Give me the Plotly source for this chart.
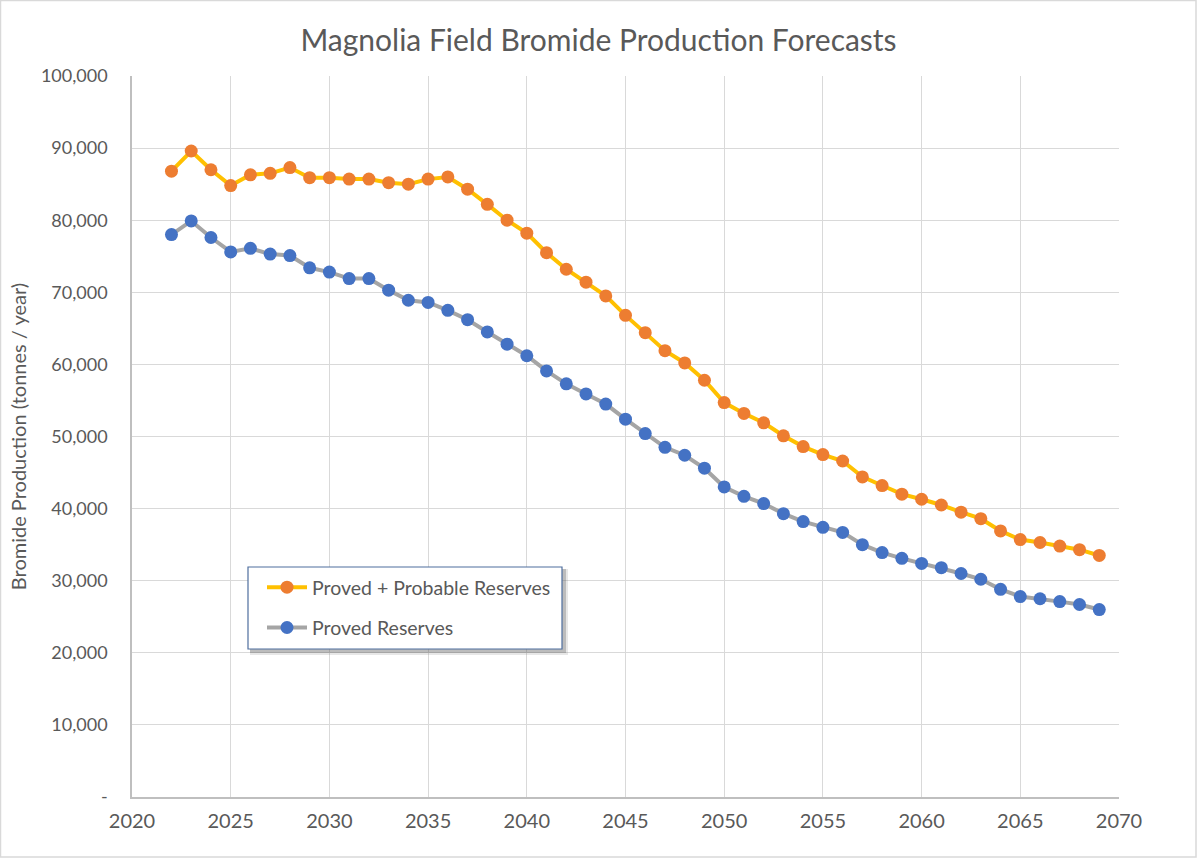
import plotly.graph_objects as go

years = list(range(2022, 2070))

proved_probable = [
    86.8, 89.6, 87.0, 84.8, 86.3, 86.5, 87.3, 85.9, 85.9, 85.7,
    85.7, 85.2, 85.0, 85.7, 86.0, 84.3, 82.2, 80.0, 78.2, 75.5,
    73.2, 71.4, 69.5, 66.8, 64.4, 61.9, 60.2, 57.8, 54.7, 53.2,
    51.9, 50.1, 48.6, 47.5, 46.6, 44.4, 43.2, 42.0, 41.3, 40.5,
    39.5, 38.6, 36.9, 35.7, 35.3, 34.8, 34.3, 33.5,
]
proved = [
    78.0, 79.9, 77.6, 75.6, 76.1, 75.3, 75.1, 73.4, 72.8, 71.9,
    71.9, 70.3, 68.9, 68.6, 67.5, 66.2, 64.5, 62.8, 61.2, 59.1,
    57.3, 55.9, 54.5, 52.4, 50.4, 48.5, 47.4, 45.6, 43.0, 41.7,
    40.7, 39.3, 38.2, 37.4, 36.7, 35.0, 33.9, 33.1, 32.4, 31.8,
    31.0, 30.2, 28.8, 27.8, 27.5, 27.1, 26.7, 26.0,
]
proved_probable = [v * 1000 for v in proved_probable]
proved = [v * 1000 for v in proved]

y_tickvals = list(range(0, 100001, 10000))
y_ticktext = ["-"] + [f"{v:,}" for v in y_tickvals[1:]]
x_tickvals = list(range(2020, 2071, 5))

W, H = 1197, 858
ML, MR, MT, MB = 132, 78, 76, 61
PW, PH = W - ML - MR, H - MT - MB

def px_x(p):
    return (p - ML) / PW

def px_y(p):
    return (H - MB - p) / PH

FONT = "Lato"
TXT = "#595959"

fig = go.Figure()
fig.add_trace(go.Scatter(
    x=years, y=proved_probable, mode="lines+markers",
    name="Proved + Probable Reserves", legendgroup="a",
    line=dict(color="#FFC000", width=4),
    marker=dict(color="#ED7D31", size=13),
))
fig.add_trace(go.Scatter(
    x=years, y=proved, mode="lines+markers",
    name="Proved Reserves", legendgroup="b",
    line=dict(color="#A5A5A5", width=4),
    marker=dict(color="#4472C4", size=13),
))

# legend box (drawn as shapes so its size matches the reference)
LX0, LX1, LY0, LY1 = 248, 562, 567, 649
shapes = [
    # outer chart border
    dict(type="rect", xref="paper", yref="paper",
         x0=px_x(0.5), x1=px_x(W - 1), y0=px_y(H - 1), y1=px_y(0.5),
         line=dict(color="#d9d9d9", width=1.5), layer="below"),
    # legend shadow (soft)
    dict(type="rect", xref="paper", yref="paper",
         x0=px_x(LX0 + 2), x1=px_x(LX1 + 6), y0=px_y(LY1 + 6), y1=px_y(LY0 + 2),
         fillcolor="rgba(120,120,120,0.18)", line=dict(width=0), layer="above"),
    dict(type="rect", xref="paper", yref="paper",
         x0=px_x(LX0 + 2), x1=px_x(LX1 + 4), y0=px_y(LY1 + 4), y1=px_y(LY0 + 2),
         fillcolor="rgba(90,90,90,0.30)", line=dict(width=0), layer="above"),
    # legend box
    dict(type="rect", xref="paper", yref="paper",
         x0=px_x(LX0), x1=px_x(LX1), y0=px_y(LY1), y1=px_y(LY0),
         fillcolor="white", line=dict(color="#4F6E9E", width=1.2), layer="above"),
]

fig.update_layout(
    width=W, height=H,
    margin=dict(l=ML, r=MR, t=MT, b=MB, pad=0),
    paper_bgcolor="white", plot_bgcolor="white",
    font=dict(family=FONT, color=TXT, size=18),
    title=dict(text="Magnolia Field Bromide Production Forecasts",
               x=0.5, xanchor="center", y=1 - 40 / H, yanchor="middle",
               font=dict(size=30, color=TXT, family=FONT)),
    xaxis=dict(range=[2020, 2070], tickvals=x_tickvals,
               showgrid=True, gridcolor="#d9d9d9", gridwidth=1,
               showline=True, linecolor="#bfbfbf", linewidth=1.5,
               zeroline=False, ticks="", tickfont=dict(size=20, color=TXT),
               ticklabelstandoff=5),
    yaxis=dict(range=[0, 100000], tickvals=y_tickvals, ticktext=y_ticktext,
               showgrid=True, gridcolor="#d9d9d9", gridwidth=1,
               showline=True, linecolor="#bfbfbf", linewidth=1.5,
               zeroline=False, ticks="", tickfont=dict(size=18, color=TXT),
               ticklabelstandoff=19,
               title=dict(text="Bromide Production (tonnes / year)",
                          font=dict(size=20, color=TXT), standoff=9)),
    legend=dict(x=px_x(262), y=px_y(568), xanchor="left", yanchor="top",
                bgcolor="rgba(0,0,0,0)", borderwidth=0,
                font=dict(size=19.5, color=TXT), tracegroupgap=12,
                itemwidth=40),
    shapes=shapes,
    showlegend=True,
)

fig.write_html("out.html", post_script="document.body.style.margin='0';",
               config={"displayModeBar": False})
